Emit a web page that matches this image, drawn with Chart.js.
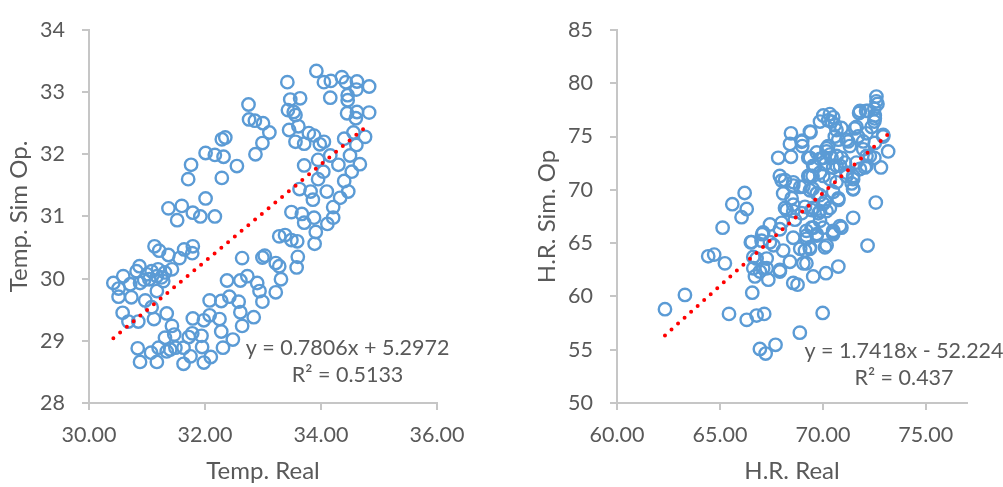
<!DOCTYPE html>
<html>
<head>
<meta charset="utf-8">
<script src="https://cdn.jsdelivr.net/npm/chart.js@4.4.0/dist/chart.umd.min.js"></script>
<style>
body { margin:0; background:#fff; width:1003px; height:487px; overflow:hidden; position:relative; }
.box { position:absolute; top:0; height:487px; }
#boxA { left:0; width:500px; }
#boxB { left:528px; width:475px; }
</style>
</head>
<body>
<div class="box" id="boxA"><canvas id="ChartA"></canvas></div>
<div class="box" id="boxB"><canvas id="ChartB"></canvas></div>
<script>
// temperature: real vs simulated
let tempReal = [33.92,33.42,34.05,34.17,34.36,34.43,34.62,34.83,34.61,34.46,34.16,34.46,33.64,33.47,33.43,33.53,33.56,34.45,34.62,34.83,
  34.60,32.75,32.76,32.86,33.00,33.11,32.99,32.87,33.45,33.61,33.56,33.71,33.79,33.88,33.98,34.05,34.40,34.56,34.76,34.61,
  34.50,34.16,33.95,33.71,34.30,34.67,34.04,34.53,33.95,34.40,33.63,33.82,33.86,34.10,34.47,34.33,34.21,34.21,34.11,33.91,
  33.88,33.71,33.67,33.49,33.28,33.38,33.49,33.59,33.89,31.76,31.71,32.01,32.17,32.32,32.29,32.35,32.29,32.55,32.01,31.37,
  31.60,31.52,31.79,31.92,32.17,31.13,31.21,31.37,31.64,31.79,31.78,31.56,30.87,30.82,31.00,31.19,31.31,31.43,30.59,30.42,
  30.51,30.71,30.88,31.04,31.17,31.28,30.51,30.73,30.97,31.17,31.08,30.58,30.68,30.85,31.12,31.34,31.43,31.47,31.31,30.84,
  30.88,31.07,31.17,31.20,31.34,31.40,31.49,31.63,31.75,31.63,31.72,31.78,31.94,31.95,31.98,32.10,32.31,32.48,31.79,31.98,
  32.08,32.25,32.28,32.64,32.61,32.84,32.08,32.28,32.42,32.58,32.38,32.61,32.73,32.90,32.94,32.99,33.22,33.31,32.64,32.99,
  33.03,33.22,33.28,33.58,33.60,31.08,31.25,30.95];
let tempSim = [33.34,33.16,33.16,33.18,33.24,33.16,33.17,33.09,33.04,32.95,32.91,32.87,32.90,32.88,32.71,32.68,32.63,32.66,32.68,32.67,
  32.58,32.80,32.56,32.54,32.50,32.35,32.18,32.00,32.39,32.45,32.20,32.17,32.34,32.30,32.16,32.20,32.25,32.35,32.28,32.15,
  31.98,31.98,31.91,31.82,31.83,31.84,31.72,31.72,31.60,31.57,31.44,31.40,31.27,31.40,31.40,31.30,31.15,30.98,30.88,30.75,
  30.98,30.90,31.04,31.07,30.68,30.70,30.62,30.60,30.56,31.83,31.60,32.02,31.99,31.96,32.24,32.27,31.62,31.81,31.29,31.13,
  31.17,30.94,31.06,31.00,31.00,30.52,30.45,30.38,30.47,30.52,30.41,30.33,30.20,30.12,30.07,30.15,30.10,30.15,30.04,29.93,
  29.84,29.91,29.93,29.99,30.04,29.96,29.71,29.70,29.65,29.80,29.54,29.45,29.31,29.31,29.35,29.44,29.24,29.10,29.05,28.88,
  28.66,28.81,28.66,28.89,28.83,28.86,28.89,28.89,28.75,28.63,29.06,29.12,29.08,28.90,28.65,28.74,28.89,29.02,29.36,29.33,
  29.41,29.35,29.15,29.24,29.46,29.38,29.65,29.64,29.71,29.63,29.97,29.97,30.04,29.93,29.80,29.63,29.78,29.99,30.33,30.34,
  30.37,30.25,30.20,30.18,30.35,30.12,30.02,29.98];
let tempFit = [0.7806, 5.2972];
let tempLabels = ['y = 0.7806x + 5.2972', 'R\u00b2 = 0.5133'];
let tempXTicks = [30, 32, 34, 36];
let tempYTicks = [28, 29, 30, 31, 32, 33, 34];

// relative humidity: real vs simulated
let hrReal = [72.6,72.6,72.65,71.76,72.1,72.5,72.52,72.5,72.37,70.02,70.34,70.5,69.86,70.26,70.58,70.9,69.4,68.45,68.4,69.0,
  69.0,70.58,70.75,71.23,71.55,71.71,71.96,72.12,72.93,73.17,72.82,72.5,72.12,72.04,71.63,70.18,70.34,70.02,70.67,69.7,
  69.29,67.83,68.45,67.91,68.16,68.56,69.05,69.6,69.5,69.86,69.29,70.5,70.83,71.15,71.47,71.4,71.47,69.5,69.86,70.5,
  70.75,70.1,68.48,68.07,68.56,68.24,68.97,69.53,69.86,70.18,69.86,69.53,69.2,69.7,69.2,70.5,70.9,71.47,72.57,72.17,
  68.64,68.0,67.43,67.1,66.54,67.6,68.07,68.56,68.9,70.18,66.2,65.6,66.3,66.05,65.13,64.43,64.72,65.24,66.62,67.27,
  62.33,63.3,65.44,66.3,66.78,67.15,66.57,66.7,66.94,67.35,67.27,66.78,66.5,67.05,67.43,67.91,68.4,68.56,68.77,69.13,
  69.37,69.2,69.53,70.15,70.75,70.5,69.99,68.88,66.94,67.22,67.7,71.8,72.2,72.52,70.42,69.37,68.97,70.66,71.63,71.15,
  71.31,70.26,70.18,70.42,69.86,69.53,70.1,70.66,69.37,70.9,71.07,71.96,72.28,72.52,72.93,71.8,72.12,68.0,68.56,69.37,
  70.02,70.34,70.66,71.47,71.15,68.9,69.37,69.7,68.16,68.56,69.13,69.45,69.78,70.02,70.34,70.75,71.47,70.83,70.5,70.02,
  69.45,69.2,69.7,67.91,67.02,69.37,70.1,69.05,66.62,67.1,67.91];
let hrSim = [78.75,78.3,78.05,77.2,77.4,77.6,76.97,76.4,75.9,76.97,77.1,76.8,76.4,76.5,76.07,75.8,75.4,75.3,74.3,74.6,
  74.1,75.0,74.7,74.54,75.76,75.0,74.54,75.3,75.15,73.6,72.1,73.0,73.17,72.1,72.55,73.9,73.3,73.0,73.17,73.5,
  73.0,73.0,73.1,71.3,70.9,70.4,70.3,72.25,71.3,71.6,71.3,72.1,72.25,71.6,71.3,70.6,70.05,70.1,69.5,69.8,
  69.05,68.9,69.2,69.66,68.6,68.1,67.8,68.3,68.0,68.0,67.1,66.45,66.15,65.85,65.4,66.15,66.45,67.37,68.8,64.77,
  67.2,66.9,66.75,66.0,65.1,64.8,64.3,65.5,64.47,64.77,69.7,68.65,68.2,67.43,66.45,63.76,63.92,63.1,63.7,63.55,
  58.8,60.14,58.36,57.8,58.2,58.36,60.35,61.87,62.33,61.57,62.64,63.55,65.08,65.84,65.08,62.33,63.25,61.26,61.1,64.3,
  64.6,63.1,61.87,62.18,62.8,65.84,58.45,56.6,55.07,54.64,55.46,77.4,77.4,76.7,76.4,75.46,74.5,75.6,75.9,74.7,
  74.1,74.1,73.6,73.0,72.9,72.25,72.4,72.25,73.0,73.0,72.55,73.8,73.17,74.4,75.0,71.95,72.25,70.87,70.7,71.3,
  71.3,71.0,70.7,71.0,71.3,70.27,69.96,69.66,68.3,68.0,68.4,68.1,67.8,68.7,68.3,69.2,70.1,66.6,66.0,66.45,
  66.45,65.7,65.7,66.3,65.23,64.47,64.6,63.1,62.64,62.64,62.48];
let hrFit = [1.7418, -52.224];
let hrLabels = ['y = 1.7418x - 52.224', 'R\u00b2 = 0.437'];
let hrXTicks = [60, 65, 70, 75];
let hrYTicks = [50, 55, 60, 65, 70, 75, 80, 85];

const grey = '#595959';
const lineGrey = '#c6c6c6';
const fontName = 'Lato, "Open Sans", sans-serif';

// writes the trendline equation and R² inside the plot
const fitLabelPlugin = {
  id: 'fitLabel',
  afterDatasetsDraw(chart, args, opts) {
    const a = chart.chartArea;
    const ctx = chart.ctx;
    ctx.save();
    ctx.font = '21.5px ' + fontName;
    ctx.fillStyle = grey;
    ctx.textAlign = 'center';
    ctx.textBaseline = 'middle';
    opts.lines.forEach(function(t, i) {
      ctx.fillText(t, a.left + a.width * opts.x, a.top + a.height * opts.y[i]);
    });
    ctx.restore();
  }
};

function createScatter(id, xs, ys, fit, labels, xTicks, yTicks, xMax, xTitle, yTitle, padRight, labelPos) {
  const points = xs.map(function(x, i) { return {x: x, y: ys[i]}; });
  const lo = Math.min.apply(null, xs), hi = Math.max.apply(null, xs);
  const trend = [{x: lo, y: fit[0] * lo + fit[1]}, {x: hi, y: fit[0] * hi + fit[1]}];
  const ctx = document.getElementById(id).getContext('2d');
  return new Chart(ctx, {
    type: 'scatter',
    data: {
      datasets: [
        {
          data: trend, showLine: true, pointRadius: 0, borderColor: '#ff0000',
          borderWidth: 4, borderDash: [0, 8.8], borderCapStyle: 'round', fill: false
        },
        {
          data: points, pointRadius: 6.2, pointHoverRadius: 6.2, pointBorderWidth: 2.4,
          borderColor: '#5b9bd5', backgroundColor: 'rgba(0,0,0,0)'
        }
      ]
    },
    options: {
      responsive: true, maintainAspectRatio: false, animation: false,
      layout: { padding: { left: 0, right: padRight, top: 21, bottom: 0 } },
      plugins: {
        legend: { display: false }, tooltip: { enabled: false },
        fitLabel: { lines: labels, x: labelPos[0], y: [labelPos[1], labelPos[2]] }
      },
      scales: {
        x: {
          type: 'linear', min: xTicks[0], max: xMax,
          afterBuildTicks: function(s) { s.ticks = xTicks.map(function(v) { return {value: v}; }); },
          afterFit: function(s) { s.height = 84; },
          ticks: { color: grey, font: { family: fontName, size: 21.5 }, padding: 12, maxRotation: 0,
            callback: function(v) { return Number(v).toFixed(2); } },
          grid: { drawOnChartArea: false, tickLength: 7, color: lineGrey, lineWidth: 2 },
          border: { color: lineGrey, width: 2 },
          title: { display: true, text: xTitle, color: grey, font: { family: fontName, size: 24 }, padding: { top: 0, bottom: 1 } }
        },
        y: {
          type: 'linear', min: yTicks[0], max: yTicks[yTicks.length - 1],
          afterBuildTicks: function(s) { s.ticks = yTicks.map(function(v) { return {value: v}; }); },
          afterFit: function(s) { s.width = 89; },
          ticks: { color: grey, font: { family: fontName, size: 21.5 }, padding: 17 },
          grid: { drawOnChartArea: false, tickLength: 7, color: lineGrey, lineWidth: 2 },
          border: { color: lineGrey, width: 2 },
          title: { display: true, text: yTitle, color: grey, font: { family: fontName, size: 24 }, padding: { top: 5, bottom: 0 } }
        }
      }
    },
    plugins: [fitLabelPlugin]
  });
}

createScatter('ChartA', tempReal, tempSim, tempFit, tempLabels, tempXTicks, tempYTicks, 36,
  'Temp. Real', 'Temp. Sim Op.', 63, [0.743, 0.853, 0.924]);
createScatter('ChartB', hrReal, hrSim, hrFit, hrLabels, hrXTicks, hrYTicks, 77,
  'H.R. Real', 'H.R. Sim. Op', 36, [0.82, 0.861, 0.934]);
</script>
</body>
</html>
